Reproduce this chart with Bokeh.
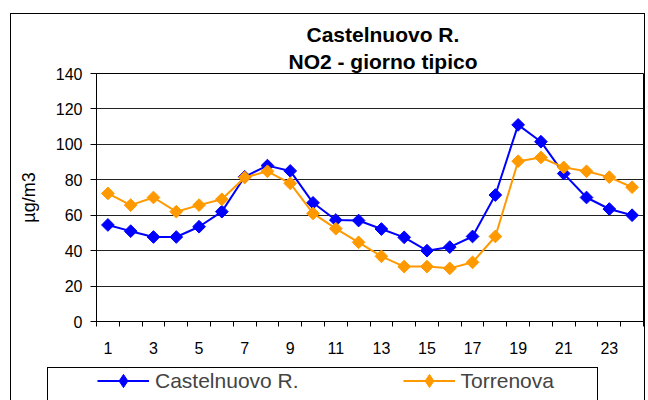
from bokeh.plotting import figure
from bokeh.layouts import column
from bokeh.models import (Range1d, FixedTicker, Title, Legend, LegendItem, InlineStyleSheet)
from bokeh.embed import file_html
from bokeh.resources import INLINE
import numpy as np

# ---- data ----
hours = list(range(1, 25))
castelnuovo = [54.5, 51.0, 47.7, 47.7, 53.5, 62.0, 81.7, 88.0, 85.0, 67.0, 57.3, 57.0,
               52.2, 47.5, 40.0, 42.0, 48.0, 71.4, 111.0, 101.5, 83.5, 70.0, 63.5, 60.0]
torrenova = [72.3, 65.7, 70.0, 62.0, 65.7, 69.0, 81.3, 84.8, 78.0, 61.0, 52.4, 44.7,
             36.8, 31.0, 31.0, 30.0, 33.4, 48.0, 90.5, 92.6, 87.0, 84.8, 81.5, 75.8]
y_ticks = [0, 20, 40, 60, 80, 100, 120, 140]
x_tick_labels = [1, 3, 5, 7, 9, 11, 13, 15, 17, 19, 21, 23]
title_lines = ["Castelnuovo R.", "NO2 - giorno tipico"]
y_label = "µg/m3"
series_names = ["Castelnuovo R.", "Torrenova"]
colors = ["#0000FF", "#FF9900"]

FONT = "Liberation Sans"

# ---- layout (page pixels) ----
W = 648
H_MAIN, H_LEG = 362, 38
frame_l, frame_r, frame_t, frame_b = 96, 643, 73, 321
x0, x1 = hours[0] - 0.5, hours[-1] + 0.5

p = figure(width=W, height=H_MAIN, output_backend="svg", toolbar_location=None,
           x_range=Range1d(x0, x1), y_range=Range1d(y_ticks[0], y_ticks[-1]),
           min_border_left=frame_l, min_border_right=W - frame_r,
           min_border_top=frame_t, min_border_bottom=H_MAIN - frame_b)
p.background_fill_color = "white"
p.border_fill_color = "white"
p.outline_line_color = "black"
p.outline_line_width = 1

# title (two lines): p.title is the outer line, the added Title sits next to the frame
TITLE_SIZE = 21
p.title.text = title_lines[0]
t2 = Title(text=title_lines[1])
p.add_layout(t2, "above")
for t, off, so in [(p.title, 210, 1), (t2, 192, 2)]:
    t.align = "left"
    t.offset = off
    t.standoff = so
    t.text_font = FONT
    t.text_font_size = f"{TITLE_SIZE}px"
    t.text_font_style = "bold"
    t.text_color = "black"

# grid
p.xgrid.grid_line_color = None
p.ygrid.grid_line_color = "#222222"
p.ygrid.grid_line_width = 1
p.ygrid.ticker = FixedTicker(ticks=y_ticks)

# y axis
ya = p.yaxis[0]
ya.ticker = FixedTicker(ticks=y_ticks)
ya.axis_line_color = "black"
ya.major_tick_line_color = "black"
ya.major_tick_out = 6
ya.major_tick_in = 0
ya.minor_tick_line_color = None
ya.major_label_standoff = 8
ya.major_label_text_font = FONT
ya.major_label_text_font_size = "16px"
ya.major_label_text_color = "black"
ya.axis_label = y_label
ya.axis_label_text_font = FONT
ya.axis_label_text_font_size = "18px"
ya.axis_label_text_font_style = "normal"
ya.axis_label_text_color = "black"
ya.axis_label_standoff = 14

# x axis
xa = p.xaxis[0]
xa.ticker = FixedTicker(ticks=x_tick_labels,
                        minor_ticks=[h - 0.5 for h in hours] + [hours[-1] + 0.5])
xa.axis_line_color = "black"
xa.major_tick_out = 0
xa.major_tick_in = 0
xa.minor_tick_line_color = "black"
xa.minor_tick_out = 5
xa.minor_tick_in = 0
xa.major_label_standoff = 15
xa.major_label_text_font = FONT
xa.major_label_text_font_size = "16px"
xa.major_label_text_color = "black"

# series
for vals, col in zip([castelnuovo, torrenova], colors):
    p.line(hours, vals, line_color=col, line_width=2)
    p.scatter(hours, vals, marker="square", size=9, angle=np.pi / 4,
              fill_color=col, line_color=col)

# ---- legend strip: frame aligned with the main frame, y range below the data ----
q = figure(width=W, height=H_LEG, output_backend="svg", toolbar_location=None,
           x_range=Range1d(frame_l, frame_r), y_range=Range1d(-H_LEG, 0),
           x_axis_location=None, y_axis_location=None,
           min_border_left=frame_l, min_border_right=W - frame_r,
           min_border_top=0, min_border_bottom=0)
q.grid.visible = False
q.outline_line_color = None
q.background_fill_alpha = 0
q.border_fill_alpha = 0

leg_items = []
for name, vals, col in zip(series_names, [castelnuovo, torrenova], colors):
    # same series drawn off-view in this strip; only their legend glyphs show
    ql = q.line(hours, vals, line_color=col, line_width=2)
    qs = q.scatter(hours, vals, marker="diamond", size=14, fill_color=col, line_color=col)
    leg_items.append(LegendItem(label=name, renderers=[ql, qs]))

legend = Legend(items=leg_items, location=(97 - frame_l, 3), orientation="horizontal",
                glyph_width=52, glyph_height=33, label_standoff=6, spacing=104,
                padding=0, margin=0, border_line_color=None, background_fill_alpha=0,
                label_text_font=FONT, label_text_font_size="21px", label_height=33)
q.add_layout(legend)

css = """
:host { position: relative; }
:host::before { content: ""; position: absolute; left: 10px; top: 13px; width: 635px; height: 387px;
  border: 1px solid black; border-bottom: none; box-sizing: border-box; pointer-events: none; z-index: 5; }
:host::after { content: ""; position: absolute; left: 47px; top: 367px; width: 551px; height: 33px;
  border: 1px solid black; border-bottom: none; box-sizing: border-box; pointer-events: none; z-index: 5; }
"""
layout = column(p, q, spacing=0, stylesheets=[InlineStyleSheet(css=css)])

open("out.html", "w").write(file_html(layout, INLINE))
